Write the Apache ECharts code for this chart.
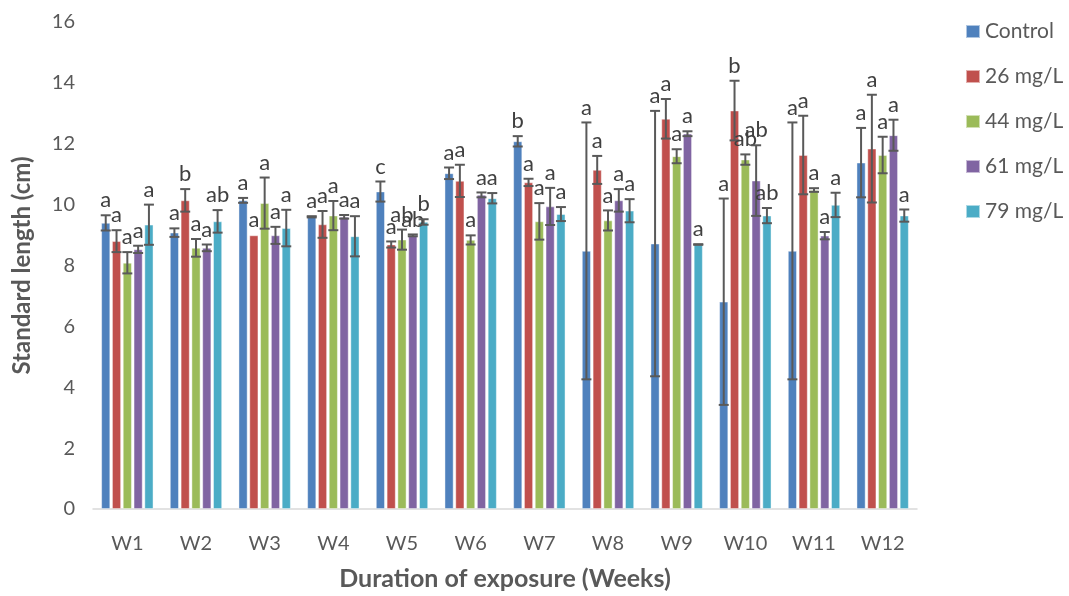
<!DOCTYPE html>
<html>
<head>
<meta charset="utf-8">
<title>Standard length by week</title>
<script src="https://cdn.jsdelivr.net/npm/echarts@6/dist/echarts.min.js"></script>
<style>
  html, body { margin: 0; padding: 0; background: #fff; }
  #chart { width: 1069px; height: 596px; }
</style>
</head>
<body>
<div id="chart"></div>
<script>
// Week labels on the category axis
const weeks = ['W1', 'W2', 'W3', 'W4', 'W5', 'W6', 'W7', 'W8', 'W9', 'W10', 'W11', 'W12'];
const groupNames = ['Control', '26 mg/L', '44 mg/L', '61 mg/L', '79 mg/L'];
const yTicks = { min: 0, max: 16, step: 2 };

// Mean standard length (cm) per week
const controlMean = [9.40, 9.08, 10.14, 9.60, 10.43, 11.03, 12.08, 8.48, 8.72, 6.81, 8.48, 11.38];
const mg26Mean    = [8.80, 10.14, 8.99, 9.35, 8.69, 10.78, 10.73, 11.14, 12.82, 13.09, 11.63, 11.84];
const mg44Mean    = [8.09, 8.58, 10.05, 9.64, 8.85, 8.84, 9.45, 9.48, 11.59, 11.48, 10.48, 11.63];
const mg61Mean    = [8.53, 8.58, 8.99, 9.60, 8.99, 10.32, 9.94, 10.14, 12.33, 10.79, 8.98, 12.28];
const mg79Mean    = [9.34, 9.45, 9.23, 8.96, 9.43, 10.21, 9.69, 9.80, 8.69, 9.64, 9.99, 9.64];

// Error (±) per week
const controlErr = [0.25, 0.14, 0.08, 0.02, 0.33, 0.19, 0.17, 4.22, 4.36, 3.39, 4.22, 1.14];
const mg26Err    = [0.36, 0.37, 0.00, 0.44, 0.10, 0.53, 0.12, 0.46, 0.65, 0.98, 1.29, 1.77];
const mg44Err    = [0.35, 0.29, 0.84, 0.48, 0.33, 0.15, 0.60, 0.33, 0.23, 0.17, 0.06, 0.60];
const mg61Err    = [0.12, 0.11, 0.28, 0.06, 0.03, 0.08, 0.61, 0.37, 0.08, 1.16, 0.12, 0.51];
const mg79Err    = [0.66, 0.37, 0.60, 0.66, 0.09, 0.17, 0.23, 0.38, 0.01, 0.25, 0.40, 0.20];

// Significance letters per week
const controlSig = ['a', 'a', 'a', 'a', 'c', 'a', 'b', 'a', 'a', 'a', 'a', 'a'];
const mg26Sig    = ['a', 'b', 'a', 'a', 'a', 'a', 'a', 'a', 'a', 'b', 'a', 'a'];
const mg44Sig    = ['a', 'a', 'a', 'a', 'ab', 'a', 'a', 'a', 'a', 'ab', 'a', 'a'];
const mg61Sig    = ['a', 'a', 'a', 'a', 'ab', 'a', 'a', 'a', 'a', 'ab', 'a', 'a'];
const mg79Sig    = ['a', 'ab', 'a', 'a', 'b', 'a', 'a', 'a', 'a', 'ab', 'a', 'a'];

const means = [controlMean, mg26Mean, mg44Mean, mg61Mean, mg79Mean];
const errs = [controlErr, mg26Err, mg44Err, mg61Err, mg79Err];
const sigs = [controlSig, mg26Sig, mg44Sig, mg61Sig, mg79Sig];
const colors = ['#4F81BD', '#C0504D', '#9BBB59', '#8064A2', '#4BACC6'];

const FONT = 'Lato, "Open Sans", sans-serif';
const TEXT = '#595959';
const BAR_W = 9;
const GAP_RATIO = 0.2;
const N = groupNames.length;

// x offset of bar i inside its category group
function barOffset(i) {
  const gap = BAR_W * GAP_RATIO;
  const total = N * BAR_W + (N - 1) * gap;
  return -total / 2 + BAR_W / 2 + i * (BAR_W + gap);
}

const barSeries = groupNames.map((name, i) => ({
  name: name,
  type: 'bar',
  barWidth: BAR_W,
  barGap: (GAP_RATIO * 100) + '%',
  itemStyle: { color: colors[i], borderColor: 'rgba(255,255,255,0.55)', borderWidth: 0.8 },
  data: means[i],
  z: 2
}));

// Error bars with caps, and the significance letter above each bar
const errSeries = groupNames.map((name, i) => ({
  name: name + ' ±',
  type: 'custom',
  z: 5,
  silent: true,
  data: weeks.map((w, k) => [k, means[i][k], errs[i][k]]),
  encode: { x: 0, y: 1 },
  renderItem: function (params, api) {
    const k = api.value(0);
    const m = api.value(1);
    const e = api.value(2);
    const sig = sigs[i][k];
    const x = api.coord([k, 0])[0] + barOffset(i);
    const yTop = api.coord([k, m + e])[1];
    const yBot = api.coord([k, m - e])[1];
    const capHalf = BAR_W / 2 + 0.5;
    const lineStyle = { stroke: '#595959', lineWidth: 2 };
    const children = [];
    if (e > 0) {
      children.push(
        { type: 'line', shape: { x1: x, y1: yTop, x2: x, y2: yBot }, style: lineStyle },
        { type: 'line', shape: { x1: x - capHalf, y1: yTop, x2: x + capHalf, y2: yTop }, style: lineStyle },
        { type: 'line', shape: { x1: x - capHalf, y1: yBot, x2: x + capHalf, y2: yBot }, style: lineStyle }
      );
    }
    children.push({
      type: 'text',
      style: {
        text: sig,
        x: x,
        y: yTop - 15,
        textAlign: 'center',
        textVerticalAlign: 'middle',
        fill: '#404040',
        font: '22px ' + FONT
      }
    });
    return { type: 'group', children: children };
  }
}));

const chart = echarts.init(document.getElementById('chart'), null, { renderer: 'canvas' });
chart.setOption({
  animation: false,
  backgroundColor: '#ffffff',
  textStyle: { fontFamily: FONT },
  grid: { left: 93, right: 152, top: 22, bottom: 84, containLabel: false },
  legend: {
    data: groupNames,
    orient: 'vertical',
    left: 960,
    top: 16,
    itemWidth: 14,
    itemHeight: 13,
    itemGap: 24,
    icon: 'rect',
    textStyle: { color: TEXT, fontSize: 21, fontFamily: FONT }
  },
  xAxis: {
    type: 'category',
    data: weeks,
    axisTick: { show: false },
    axisLine: { lineStyle: { color: '#D9D9D9', width: 1.5 } },
    axisLabel: { color: TEXT, fontSize: 20, margin: 25, fontFamily: FONT },
    name: 'Duration of exposure (Weeks)',
    nameLocation: 'middle',
    nameGap: 57,
    nameTextStyle: { color: TEXT, fontSize: 25, fontWeight: 'bold', fontFamily: FONT }
  },
  yAxis: {
    type: 'value',
    min: yTicks.min,
    max: yTicks.max,
    interval: yTicks.step,
    axisLine: { show: false },
    axisTick: { show: false },
    splitLine: { show: false },
    axisLabel: { color: TEXT, fontSize: 20, margin: 18, fontFamily: FONT },
    name: 'Standard length (cm)',
    nameLocation: 'middle',
    nameGap: 59,
    nameRotate: 90,
    nameTextStyle: { color: TEXT, fontSize: 24, fontWeight: 'bold', fontFamily: FONT }
  },
  series: barSeries.concat(errSeries)
});
</script>
</body>
</html>
